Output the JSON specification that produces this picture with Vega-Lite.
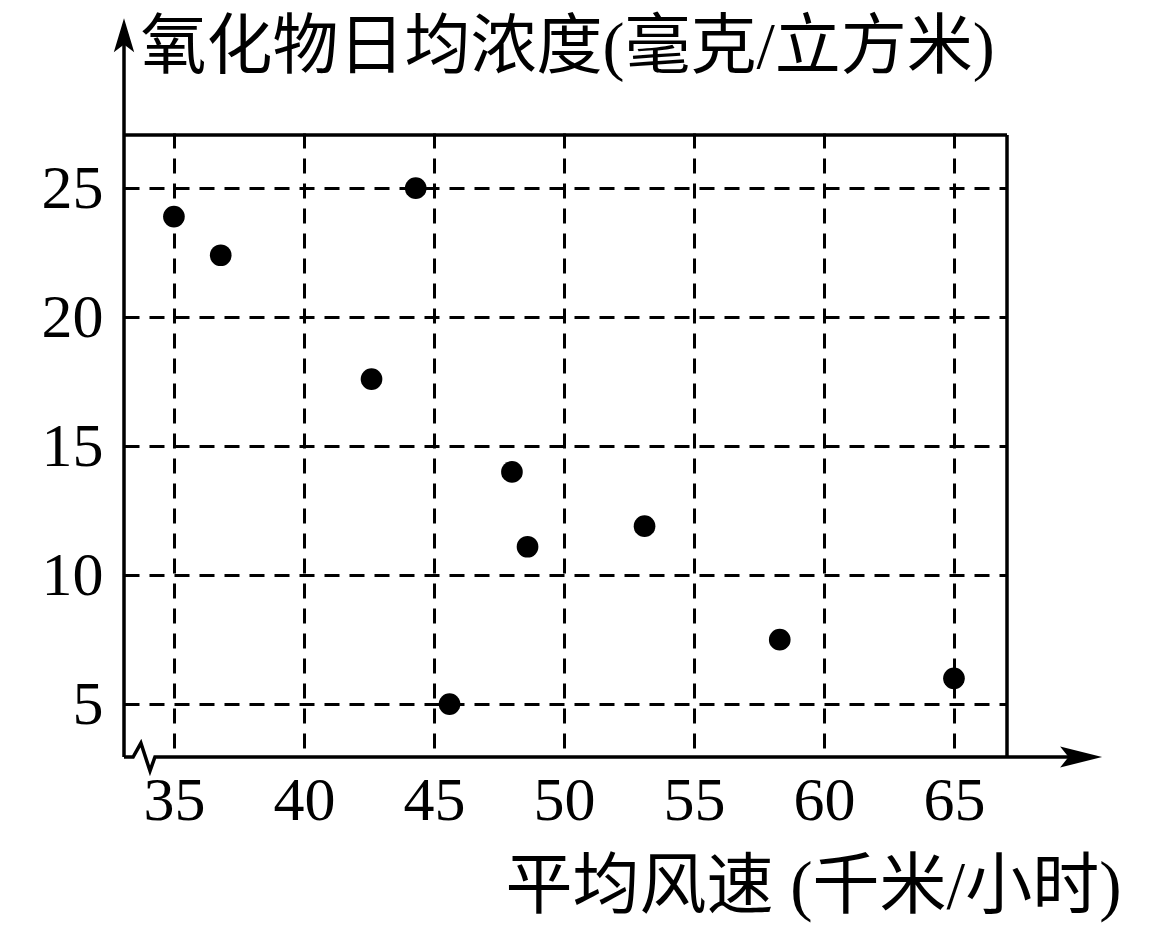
{
  "$schema": "https://vega.github.io/schema/vega-lite/v6.json",
  "autosize": "none",
  "width": 883,
  "height": 624,
  "padding": {"left": 124, "top": 133, "right": 146, "bottom": 188},
  "background": "white",
  "config": {"view": {"stroke": null}},
  "datasets": {
    "pts": [
      {"speed": 35.0, "conc": 23.9},
      {"speed": 36.8, "conc": 22.4},
      {"speed": 44.3, "conc": 25.0},
      {"speed": 42.6, "conc": 17.6},
      {"speed": 48.0, "conc": 14.0},
      {"speed": 48.6, "conc": 11.1},
      {"speed": 53.1, "conc": 11.9},
      {"speed": 45.6, "conc": 5.0},
      {"speed": 58.3, "conc": 7.5},
      {"speed": 65.0, "conc": 6.0}
    ],
    "lines": [
      {"seg": "left", "o": 1, "speed": 33.08, "conc": 2.95},
      {"seg": "left", "o": 2, "speed": 33.08, "conc": 31.3},
      {"seg": "bottom", "o": 1, "speed": 33.08, "conc": 2.95},
      {"seg": "bottom", "o": 2, "speed": 33.43, "conc": 2.95},
      {"seg": "bottom", "o": 3, "speed": 33.73, "conc": 3.49},
      {"seg": "bottom", "o": 4, "speed": 34.08, "conc": 2.41},
      {"seg": "bottom", "o": 5, "speed": 34.27, "conc": 2.95},
      {"seg": "bottom", "o": 6, "speed": 69.6, "conc": 2.95},
      {"seg": "top", "o": 1, "speed": 33.08, "conc": 27.06},
      {"seg": "top", "o": 2, "speed": 67.04, "conc": 27.06},
      {"seg": "right", "o": 1, "speed": 67.04, "conc": 27.06},
      {"seg": "right", "o": 2, "speed": 67.04, "conc": 2.95}
    ],
    "arrows": [
      {"axis": "y", "speed": 33.08, "conc": 30.93},
      {"axis": "x", "speed": 69.89, "conc": 2.95}
    ]
  },
  "encoding": {
    "x": {
      "field": "speed",
      "type": "quantitative",
      "scale": {"domain": [33.08, 67.04], "nice": false, "zero": false},
      "axis": {
        "values": [35, 40, 45, 50, 55, 60, 65],
        "title": "平均风速 (千米/小时)",
        "titleX": 381,
        "titleY": 130,
        "titleAlign": "left",
        "titleAnchor": null,
        "titleBaseline": "middle",
        "titleAngle": 0,
        "titleFont": "Liberation Serif, Noto Sans CJK SC",
        "titleFontSize": 67,
        "titleFontWeight": "normal",
        "titleColor": "black",
        "labelFont": "Liberation Serif",
        "labelFontSize": 62,
        "labelColor": "black",
        "labelPadding": 13,
        "labelFlush": false,
        "labelOverlap": false,
        "ticks": false,
        "domain": false,
        "grid": true,
        "gridColor": "black",
        "gridOpacity": 1,
        "gridWidth": 3,
        "gridDash": [15, 10]
      }
    },
    "y": {
      "field": "conc",
      "type": "quantitative",
      "scale": {"domain": [2.95, 27.14], "nice": false, "zero": false},
      "axis": {
        "values": [5, 10, 15, 20, 25],
        "labelExpr": "datum.value == 5 ? '5\u00a0' : datum.label",
        "title": "氧化物日均浓度(毫克/立方米)",
        "titleX": 16,
        "titleY": -86,
        "titleAlign": "left",
        "titleAnchor": null,
        "titleBaseline": "middle",
        "titleAngle": 0,
        "titleFont": "Liberation Serif, Noto Sans CJK SC",
        "titleFontSize": 66,
        "titleFontWeight": "normal",
        "titleColor": "black",
        "labelFont": "Liberation Serif",
        "labelFontSize": 62,
        "labelColor": "black",
        "labelPadding": 21,
        "labelFlush": false,
        "labelOverlap": false,
        "ticks": false,
        "domain": false,
        "grid": true,
        "gridColor": "black",
        "gridOpacity": 1,
        "gridWidth": 3,
        "gridDash": [15, 10]
      }
    }
  },
  "layer": [
    {
      "data": {"name": "lines"},
      "mark": {"type": "line", "color": "black", "strokeWidth": 3.5, "clip": false, "strokeJoin": "miter", "strokeCap": "butt"},
      "encoding": {
        "detail": {"field": "seg"},
        "order": {"field": "o", "type": "quantitative"}
      }
    },
    {
      "data": {"name": "arrows"},
      "transform": [{"filter": "datum.axis == 'y'"}],
      "mark": {"type": "point", "shape": "M0,-1L0.6,1L0,0.55L-0.6,1Z", "filled": true, "color": "black", "opacity": 1, "size": 1156, "clip": false}
    },
    {
      "data": {"name": "arrows"},
      "transform": [{"filter": "datum.axis == 'x'"}],
      "mark": {"type": "point", "shape": "M1,0L-1,0.5L-0.6,0L-1,-0.5Z", "filled": true, "color": "black", "opacity": 1, "size": 1764, "clip": false}
    },
    {
      "data": {"name": "pts"},
      "mark": {"type": "circle", "color": "black", "opacity": 1, "size": 470, "clip": false}
    }
  ]
}
